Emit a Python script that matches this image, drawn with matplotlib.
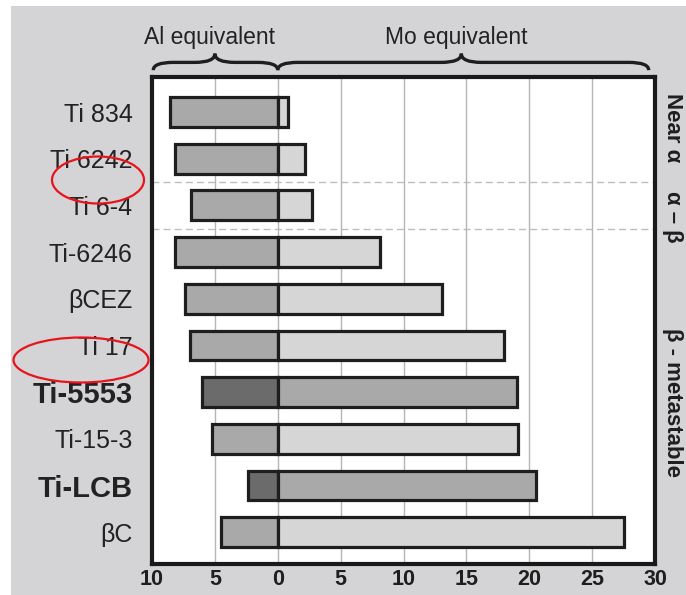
import matplotlib
matplotlib.use("Agg")
import matplotlib.pyplot as plt
from matplotlib.patches import Rectangle, Ellipse, PathPatch
from matplotlib.path import Path
import matplotlib.transforms as mtransforms
from matplotlib.ticker import FuncFormatter

plt.rcParams['font.family'] = ['Liberation Sans', 'DejaVu Sans']

# ---- data ----
alloys = ["Ti 834", "Ti 6242", "Ti 6-4", "Ti-6246", "βCEZ", "Ti 17",
          "Ti-5553", "Ti-15-3", "Ti-LCB", "βC"]
al_equivalent = [8.6, 8.2, 6.9, 8.2, 7.4, 7.0, 6.0, 5.2, 2.4, 4.5]
mo_equivalent = [0.85, 2.15, 2.7, 8.1, 13.1, 18.0, 19.0, 19.1, 20.5, 27.5]
highlighted = ["Ti-5553", "Ti-LCB"]
x_ticks = [-10, -5, 0, 5, 10, 15, 20, 25, 30]
group_labels = ["Near α", "α – β", "β - metastable"]
group_breaks = [1.5, 2.5]

W, H = 686, 595
fig = plt.figure(figsize=(W / 100, H / 100), dpi=100, facecolor='white')
# gray backdrop
fig.patches.append(Rectangle((11 / W, 0), 1 - 11 / W, 1 - 6 / H,
                             transform=fig.transFigure, facecolor='#d4d4d6',
                             edgecolor='none', zorder=-10))

ax = fig.add_axes([152 / W, 1 - 564 / H, (655 - 152) / W, (564 - 77) / H])
ax.set_facecolor('white')

ypos = list(range(len(alloys)))
edge = '#1e1e1e'
al_colors = ['#6b6b6b' if a in highlighted else '#a9a9a9' for a in alloys]
mo_colors = ['#a9a9a9' if a in highlighted else '#d6d6d6' for a in alloys]
neg_al = [-v for v in al_equivalent]

ax.barh(ypos, neg_al, height=0.64, color=al_colors, edgecolor=edge,
        linewidth=2.3, zorder=3)
ax.barh(ypos, mo_equivalent, height=0.64, color=mo_colors, edgecolor=edge,
        linewidth=2.3, zorder=3)

ax.set_xlim(-10, 30)
ax.set_ylim(9.68, -0.75)
ax.set_xticks(x_ticks)
ax.xaxis.set_major_formatter(FuncFormatter(lambda v, p: f"{abs(int(v))}"))
ax.grid(axis='x', color='#b5b5b5', linewidth=1.0, zorder=0)
ax.tick_params(axis='x', length=0, pad=3.5, labelsize=15.5, colors='#1e1e1e')
for t in ax.get_xticklabels():
    t.set_fontweight('bold')

ax.set_yticks(ypos)
ax.set_yticklabels(alloys)
ax.tick_params(axis='y', length=0, pad=14, colors='#222222')
for t, name in zip(ax.get_yticklabels(), alloys):
    if name in highlighted:
        t.set_fontweight('bold')
        t.set_fontsize(21)
    else:
        t.set_fontsize(18)

for s in ax.spines.values():
    s.set_linewidth(3.0)
    s.set_color('#1a1a1a')

for b in group_breaks:
    ax.axhline(b, color='#bdbdbd', linestyle=(0, (5, 3)), linewidth=1.0, zorder=1)

# ---- braces and headers ----
trans = mtransforms.blended_transform_factory(ax.transData, ax.transAxes)


def brace(x0, x1, xm, r=1.6, y0=1.014, y1=1.030, y2=1.048):
    verts = [(x0, y0), (x0, y1), (x0 + r, y1), (xm - r, y1), (xm, y1), (xm, y2),
             (xm, y1), (xm + r, y1), (x1 - r, y1), (x1, y1), (x1, y0)]
    codes = [Path.MOVETO, Path.CURVE3, Path.CURVE3, Path.LINETO,
             Path.CURVE3, Path.CURVE3, Path.CURVE3, Path.CURVE3,
             Path.LINETO, Path.CURVE3, Path.CURVE3]
    p = PathPatch(Path(verts, codes), transform=trans, facecolor='none',
                  edgecolor='#1e1e1e', linewidth=2.4, clip_on=False)
    ax.add_patch(p)


brace(-9.9, 0, -5.0)
brace(0, 29.5, 14.6)
ax.text(-5.4, 1.082, "Al equivalent", transform=trans, ha='center', va='center',
        fontsize=16.5, color='#222222')
ax.text(14.2, 1.082, "Mo equivalent", transform=trans, ha='center', va='center',
        fontsize=16.5, color='#222222')

# ---- right side group labels ----
for lab, yf in zip(group_labels, [0.897, 0.712, 0.331]):
    ax.text(1.035, yf, lab, transform=ax.transAxes, rotation=-90,
            ha='center', va='center', fontsize=16, fontweight='bold',
            color='#1e1e1e')

# ---- red annotation ellipses ----
for (cx, cy, w, h) in [(98, 180, 92, 47), (81, 360, 135, 45)]:
    fig.patches.append(Ellipse((cx / W, 1 - cy / H), w / W, h / H,
                               transform=fig.transFigure, facecolor='none',
                               edgecolor='#e8141c', linewidth=1.6, zorder=20))

fig.savefig("out.png", dpi=100, facecolor=fig.get_facecolor())
